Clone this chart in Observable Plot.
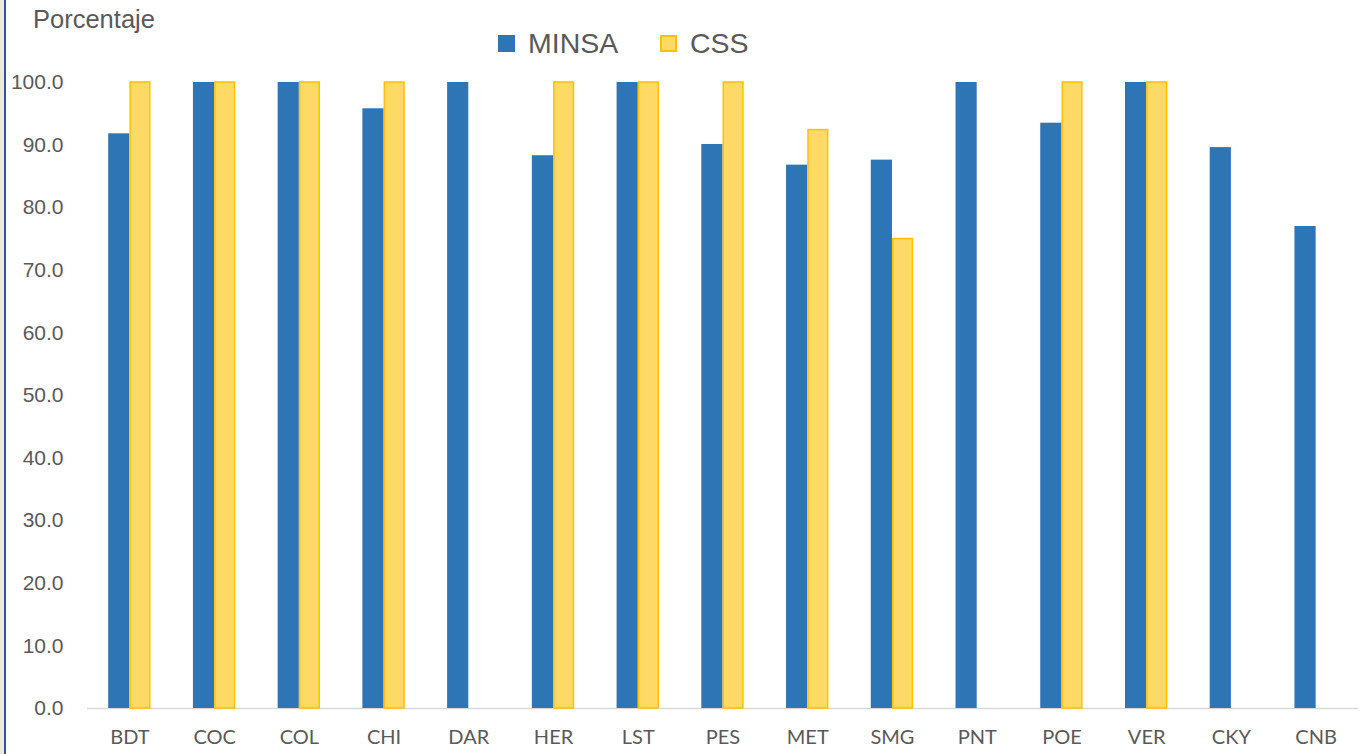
<!DOCTYPE html>
<html>
<head>
<meta charset="utf-8">
<script src="https://cdn.jsdelivr.net/npm/d3@7"></script>
<script src="https://cdn.jsdelivr.net/npm/@observablehq/plot@0.6"></script>
<style>
  html, body { margin: 0; padding: 0; background: #fff; }
  #wrap { position: relative; width: 1361px; height: 754px; overflow: hidden; }
  #strip { position: absolute; left: 0; top: 0; width: 4px; height: 754px; background: #ECE8DF; }
  #vline { position: absolute; left: 4px; top: 0; width: 2px; height: 754px; background: #2F5597; }
  .lbl { position: absolute; font-family: "Liberation Sans", Arial, sans-serif; color: #595959; white-space: nowrap; line-height: 1; }
  .sw { position: absolute; width: 17px; height: 17px; box-sizing: border-box; }
  svg { position: absolute; left: 0; top: 0; }
</style>
</head>
<body>
<div id="wrap">
  <div id="chart"></div>
  <div id="strip"></div>
  <div id="vline"></div>
  <div class="lbl" style="left:33px; top:7px; font-size:25.5px;">Porcentaje</div>
  <div class="sw" style="left:498px; top:35px; background:#2E75B6;"></div>
  <div class="lbl" style="left:528px; top:29px; font-size:28.5px;">MINSA</div>
  <div class="sw" style="left:660px; top:35px; background:#FFD966; border:2px solid #FFC000;"></div>
  <div class="lbl" style="left:690px; top:29px; font-size:28.5px;">CSS</div>
</div>
<script>
const categories = ["BDT","COC","COL","CHI","DAR","HER","LST","PES","MET","SMG","PNT","POE","VER","CKY","CNB"];
const minsaValues = [91.8,100,100,95.8,100,88.3,100,90.1,86.8,87.6,100,93.5,100,89.6,77.0];
const cssValues = [100,100,100,100,null,100,100,100,92.4,75.0,null,100,100,null,null];
const seriesNames = ["MINSA","CSS"];
const yTicks = [0,10,20,30,40,50,60,70,80,90,100];

const W = 1361, H = 754, ML = 87, MR = 3, MT = 82, MB = 46;
const xOpts = {type: "band", domain: categories, paddingInner: 0.5, paddingOuter: 0.25, round: false};
const bw = Plot.scale({x: {...xOpts, range: [ML, W - MR]}}).bandwidth;
const half = bw / 2;

const minsa = categories.map((c, i) => ({cat: c, series: seriesNames[0], value: minsaValues[i]})).filter(d => d.value != null);
const css = categories.map((c, i) => ({cat: c, series: seriesNames[1], value: cssValues[i]})).filter(d => d.value != null);

const chart = Plot.plot({
  width: W, height: H,
  marginLeft: ML, marginRight: MR, marginTop: MT, marginBottom: MB,
  style: {background: "transparent", fontFamily: "'Liberation Sans', Arial, sans-serif"},
  x: {...xOpts, label: null},
  y: {domain: [0, 100], label: null},
  marks: [
    Plot.ruleY([0], {stroke: "#D9D9D9", strokeWidth: 1.5}),
    Plot.barY(minsa, {x: "cat", y: "value", fill: "#2E75B6", insetRight: half}),
    Plot.barY(css, {x: "cat", y: "value", fill: "#FFD966", stroke: "#FFC000", strokeWidth: 1.5, insetLeft: half + 0.75, insetRight: 0.75}),
    Plot.axisY({ticks: yTicks, tickSize: 0, tickPadding: 24, tickFormat: d => d.toFixed(1), fontSize: 21, fill: "#595959", label: null}),
    Plot.axisX({tickSize: 0, tickPadding: 21, fontSize: 20, fill: "#595959", label: null, fontFamily: "Lato, 'Open Sans', sans-serif"})
  ]
});
document.getElementById("chart").appendChild(chart);
</script>
</body>
</html>
